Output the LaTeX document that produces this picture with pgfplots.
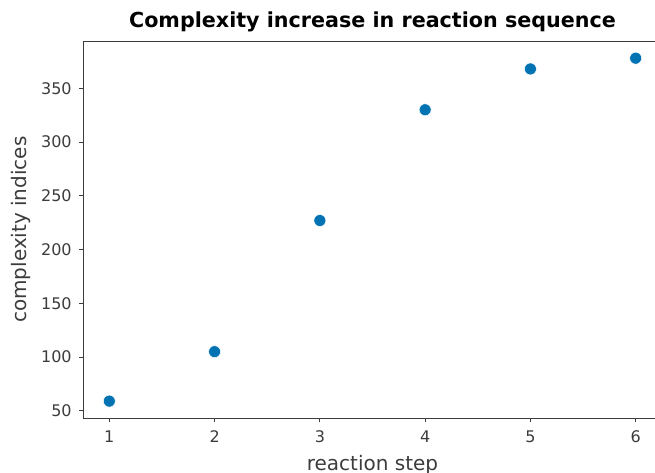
\documentclass[border=0pt]{standalone}
\usepackage{pgfplots}
\pgfplotsset{compat=1.18}
\usepackage{fontspec}
\setmainfont{DejaVu Sans}
\definecolor{dotblue}{RGB}{1,115,178}
\definecolor{axgray}{RGB}{60,60,60}
\begin{document}
\begin{tikzpicture}
\begin{scope}
\clip (-62.25pt,-41pt) rectangle (429pt,313.75pt);
\begin{axis}[
    at={(0,0)}, anchor=south west,
    scale only axis,
    width=434.25pt, height=283pt,
    xmin=0.75, xmax=6.25,
    ymin=43, ymax=394,
    xtick={1,2,3,4,5,6},
    ytick={50,100,150,200,250,300,350},
    tick pos=left,
    tick align=outside,
    major tick length=3pt,
    axis line style={axgray, line width=0.6pt},
    tick style={axgray, line width=0.6pt},
    tick label style={font=\fontsize{12}{14}\selectfont, text=axgray},
    xticklabel style={yshift=-3pt},
    yticklabel style={xshift=-2pt},
    /pgf/number format/assume math mode=true,
    xlabel={reaction step},
    ylabel={complexity indices},
    label style={font=\fontsize{15}{18}\selectfont, text=axgray},
    xlabel style={yshift=-2.5pt},
    ylabel style={yshift=1pt},
    title={Complexity increase in reaction sequence},
    title style={font=\bfseries\fontsize{15.5}{18}\selectfont, yshift=-3pt},
]
\addplot[only marks, mark=*, mark size=4.5pt, mark options={fill=dotblue, draw=white, line width=0.4pt}]
coordinates {(1,59) (2,105) (3,227) (4,330) (5,368) (6,378)};
\end{axis}
\end{scope}
\pgfresetboundingbox
\useasboundingbox (-62.25pt,-41pt) rectangle (429pt,313.75pt);
\end{tikzpicture}
\end{document}
